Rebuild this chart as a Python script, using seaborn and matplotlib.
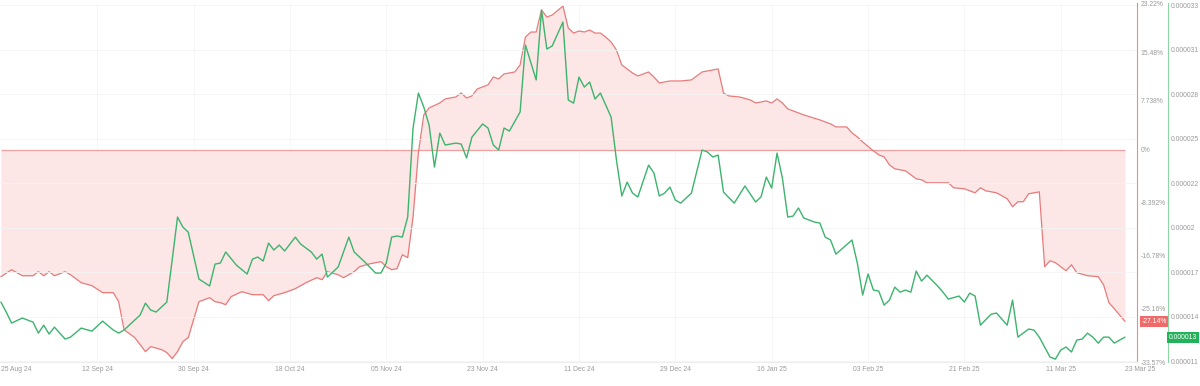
import pandas as pd
import matplotlib.pyplot as plt
import matplotlib.transforms as mtransforms
import seaborn as sns

# days since 25 Aug 24
start = pd.Timestamp("2024-08-25")

red_days = [0, 2, 4, 6, 7, 8, 9, 10, 12, 13, 15, 17, 19, 21, 22, 23, 25, 27, 28, 30,
            31, 32, 33, 34, 35, 37, 39, 40, 41, 42, 43, 45, 47, 49, 50, 51, 53, 55, 57, 59,
            60, 61, 63, 64, 66, 67, 69, 71, 72, 73, 74, 75, 76, 77, 78, 79, 80, 82, 83, 85,
            86, 87, 88, 89, 91, 92, 93, 94, 96, 97, 98, 99, 100, 101, 102, 103, 105, 106, 107, 108,
            109, 110, 111, 112, 113, 114, 115, 116, 118, 119, 121, 122, 123, 125, 127, 129, 131, 132, 134, 135,
            136, 138, 140, 141, 143, 144, 145, 146, 147, 149, 150, 153, 155, 156, 158, 159, 160, 161, 163, 164,
            165, 166, 167, 169, 171, 172, 173, 177, 178, 180, 182, 183, 184, 186, 188, 189, 190, 191, 192, 194,
            195, 196, 197, 199, 200, 201, 203, 205, 206, 207, 208, 210]
red_pct = [-20.06, -18.96, -19.91, -19.91, -19.27, -19.91, -19.27, -19.91, -19.27, -19.75,
           -21.01, -21.48, -22.59, -22.59, -24.01, -28.44, -29.70, -31.91, -31.12, -31.60,
           -32.07, -33.02, -31.91, -30.33, -29.70, -24.01, -23.38, -24.01, -24.17, -24.49,
           -23.22, -22.43, -22.91, -22.91, -23.85, -23.06, -22.59, -21.96, -21.01, -20.22,
           -20.54, -19.27, -19.75, -20.22, -19.27, -18.48, -18.01, -17.69, -18.48, -18.96,
           -18.80, -16.59, -17.06, -10.58, -0.47, 5.53, 6.64, 7.42, 8.06, 8.37,
           9.00, 8.21, 8.53, 9.64, 10.27, 11.53, 11.22, 12.01, 12.32, 13.43,
           17.85, 18.64, 18.64, 22.12, 21.01, 21.33, 22.75, 19.27, 18.48, 18.80,
           18.64, 18.96, 18.48, 18.48, 17.85, 17.06, 15.80, 13.43, 12.16, 11.69,
           12.32, 11.53, 10.58, 10.90, 10.90, 11.06, 12.32, 12.48, 12.80, 9.00,
           8.53, 8.37, 7.90, 7.42, 7.74, 7.42, 8.06, 7.42, 6.48, 5.85,
           5.53, 4.74, 4.11, 3.63, 3.63, 2.69, 2.05, 1.26, -0.16, -0.79,
           -1.11, -2.37, -3.00, -3.32, -4.58, -4.74, -5.21, -5.21, -6.00, -6.16,
           -6.79, -6.00, -6.48, -6.79, -7.74, -9.00, -8.21, -8.21, -6.95, -6.64,
           -18.48, -17.54, -17.85, -19.12, -18.17, -19.43, -19.91, -20.06, -21.33, -24.17,
           -25.12, -27.14]

green_days = [0, 1, 2, 4, 6, 7, 8, 9, 10, 12, 13, 15, 17, 19, 21, 22, 23, 25, 26, 27,
              28, 29, 31, 32, 33, 34, 35, 37, 39, 40, 41, 42, 44, 46, 47, 48, 49, 50, 51, 52,
              53, 55, 56, 58, 59, 60, 61, 62, 63, 65, 66, 68, 70, 71, 72, 73, 74, 75, 76, 77,
              78, 79, 80, 81, 82, 83, 85, 86, 87, 88, 90, 91, 92, 93, 94, 95, 97, 98, 100, 101,
              102, 103, 105, 106, 107, 108, 109, 110, 111, 112, 114, 115, 116, 117, 118, 119, 121, 122, 123, 124,
              125, 126, 127, 129, 131, 132, 133, 134, 135, 137, 139, 141, 142, 143, 144, 145, 146, 147, 148, 149,
              150, 152, 153, 154, 155, 156, 159, 160, 161, 162, 163, 164, 165, 166, 167, 168, 169, 170, 171, 172,
              173, 175, 176, 177, 179, 180, 181, 182, 183, 185, 186, 188, 189, 190, 192, 193, 194, 196, 197, 198,
              199, 200, 201, 202, 203, 204, 205, 206, 207, 208, 210]
# price in millionths
green_price = [14.65, 14.03, 13.35, 13.66, 13.41, 12.73, 13.22, 12.67, 13.10, 12.36,
               12.48, 13.04, 12.85, 13.47, 12.92, 12.73, 12.92, 13.53, 13.84, 14.58,
               14.15, 14.03, 14.65, 17.24, 19.90, 19.28, 18.97, 16.07, 15.64, 16.99,
               17.06, 17.74, 16.93, 16.38, 17.30, 17.43, 17.18, 18.29, 17.86, 18.17,
               17.80, 18.66, 18.23, 17.74, 17.30, 17.61, 16.19, 16.50, 16.81, 18.66,
               17.74, 17.12, 16.44, 16.44, 17.06, 18.66, 18.73, 18.66, 19.90, 25.40,
               27.56, 26.70, 25.58, 22.99, 25.09, 24.35, 24.47, 24.41, 23.55, 24.84,
               25.65, 25.40, 24.35, 24.04, 25.40, 25.21, 26.39, 30.53, 28.37, 32.69,
               30.28, 30.47, 31.95, 27.13, 26.94, 28.55, 27.93, 28.24, 27.19, 27.56,
               26.08, 23.42, 21.20, 22.06, 21.38, 21.14, 23.11, 22.62, 21.20, 21.38,
               21.75, 20.95, 20.76, 21.38, 24.04, 23.92, 23.61, 23.73, 21.44, 20.76,
               21.82, 20.83, 21.14, 22.37, 21.69, 23.85, 22.31, 19.90, 19.96, 20.46,
               19.84, 19.59, 19.53, 18.66, 18.48, 17.61, 18.48, 17.06, 15.08, 16.38,
               15.39, 15.33, 14.46, 14.77, 15.57, 15.26, 15.39, 15.26, 16.56, 15.94,
               16.31, 15.64, 15.26, 14.83, 15.02, 14.65, 15.20, 15.02, 13.22, 13.90,
               13.97, 13.22, 14.77, 12.48, 12.98, 12.92, 12.48, 11.25, 11.12, 11.68,
               11.87, 11.56, 12.30, 12.36, 12.73, 12.48, 12.11, 12.48, 12.48, 12.11,
               12.48]

pct_ticks = [23.22, 15.48, 7.738, 0, -8.392, -16.78, -25.16, -33.57]
pct_labels = ["23.22%", "15.48%", "7.738%", "0%", "-8.392%", "-16.78%", "-25.16%", "-33.57%"]
price_ticks = [33, 30.25, 27.5, 24.75, 22, 19.25, 16.5, 13.75, 11]
price_labels = ["0.000033", "0.000031", "0.000028", "0.000025", "0.000022",
                "0.00002", "0.000017", "0.000014", "0.000011"]
date_ticks = ["2024-08-25", "2024-09-12", "2024-09-30", "2024-10-18", "2024-11-05",
              "2024-11-23", "2024-12-11", "2024-12-29", "2025-01-16", "2025-02-03",
              "2025-02-21", "2025-03-11", "2025-03-23"]

red_df = pd.DataFrame({"date": start + pd.to_timedelta(red_days, unit="D"), "pct": red_pct})
green_df = pd.DataFrame({"date": start + pd.to_timedelta(green_days, unit="D"),
                         "price": green_price})

RED = "#e77b7b"
GREEN = "#3cb46e"
TXT = "#9a9a9a"
FS = 4.9

sns.set_style("white")
plt.rcParams["font.family"] = ["Liberation Sans", "DejaVu Sans"]
fig = plt.figure(figsize=(12, 3.86), dpi=100)
ax = fig.add_axes([0.0, 0.062, 0.9475, 0.93])
ax2 = ax.twinx()

# pct axis (red), fill toward zero
ax.fill_between(red_df["date"], red_df["pct"], 0, color="#fde6e6", lw=0, zorder=1)
ax.hlines(0, red_df["date"].iloc[0], red_df["date"].iloc[-1], color="#f0a0a0", lw=0.9, zorder=2)
sns.lineplot(data=red_df, x="date", y="pct", ax=ax, color=RED, lw=0.9, zorder=3)
ax.set_ylim(-33.57, 23.22)
ax.set_xlim(pd.Timestamp("2024-08-24 20:00"), pd.Timestamp("2025-03-25 06:00"))

# price axis (green)
sns.lineplot(data=green_df, x="date", y="price", ax=ax2, color=GREEN, lw=1.0, zorder=4)
ax2.set_ylim(10.94, 33.12)

ax.yaxis.tick_right()
ax.set_yticks(pct_ticks)
ax.set_yticklabels(pct_labels)
ax2.set_yticks(price_ticks)
ax2.set_yticklabels(price_labels)
ax2.spines["right"].set_position(("outward", 22))

for a in (ax, ax2):
    a.set_xlabel("")
    a.set_ylabel("")
    for s in ("top", "left", "bottom"):
        a.spines[s].set_visible(False)
    a.tick_params(axis="y", length=0, labelsize=FS, labelcolor=TXT, pad=2.5)
ax.spines["right"].set_color("#f08a8a")
ax2.spines["right"].set_color("#8fd5a5")
ax.spines["bottom"].set_visible(True)
ax.spines["bottom"].set_color("#eeeeee")

# faint grid from price ticks and date ticks
ax2.grid(axis="y", color="#f4f4f4", lw=0.6)
ax2.set_axisbelow(True)
ax.set_zorder(ax2.get_zorder() - 1)
ax2.patch.set_visible(False)

dt = pd.to_datetime(date_ticks)
ax.set_xticks(dt)
ax.set_xticklabels([d.strftime("%d %b %y") for d in dt])
ax.tick_params(axis="x", length=0, labelsize=FS, labelcolor=TXT, pad=3)
labels = ax.get_xticklabels()
labels[0].set_ha("left")
labels[-1].set_ha("left")
for d in dt[1:-1]:
    ax.axvline(d, color="#f5f5f5", lw=0.6, zorder=0)

# current value boxes
tr = mtransforms.blended_transform_factory(ax.transAxes, ax.transData)
ax.text(1.004, red_pct[-1], f"{red_pct[-1]:.2f}%", transform=tr, fontsize=FS, color="white",
        va="center", ha="left", bbox=dict(fc="#f06a6a", ec="none", boxstyle="square,pad=0.3"))
tr2 = mtransforms.blended_transform_factory(ax2.transAxes, ax2.transData)
ax2.text(1.028, green_price[-1], "0.000013", transform=tr2, fontsize=FS, color="white",
         va="center", ha="left", bbox=dict(fc="#22b35a", ec="none", boxstyle="square,pad=0.3"),
         clip_on=False)

fig.savefig("out.png", dpi=100)
